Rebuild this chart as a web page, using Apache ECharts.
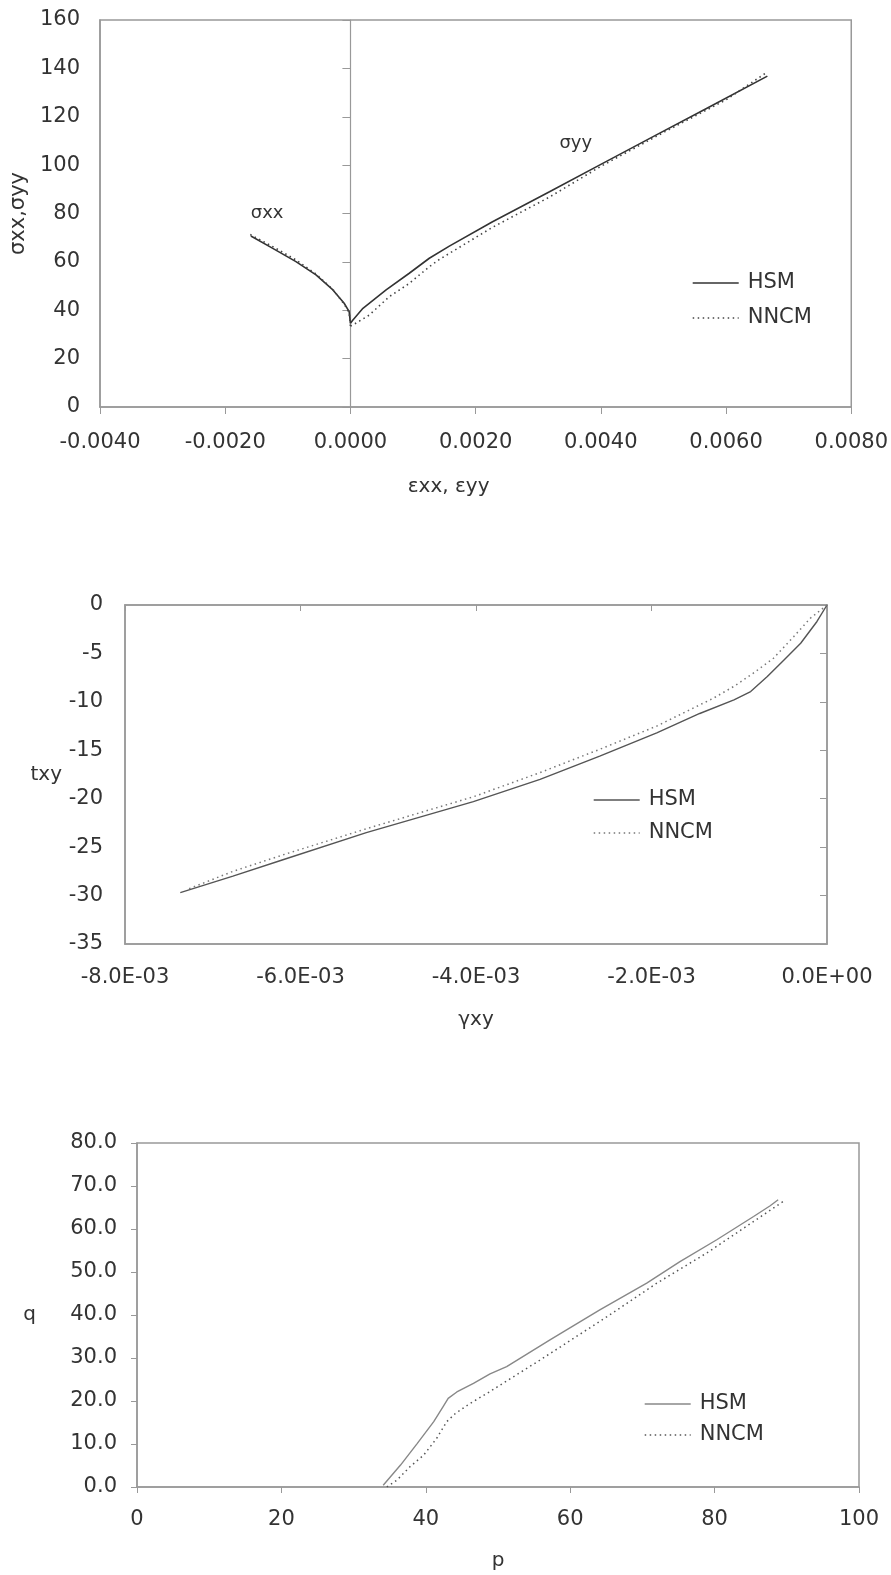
<!DOCTYPE html>
<html>
<head>
<meta charset="utf-8">
<script src="https://cdn.jsdelivr.net/npm/echarts@6/dist/echarts.min.js"></script>
<style>
  html, body { margin: 0; padding: 0; background: #fff; }
  #chart-container { width: 891px; height: 1575px; }
</style>
</head>
<body>
<div id="chart-container"></div>
<script>
// chart 1: sigma vs strain (xx branch goes left, yy branch goes right)
const hsmExx = [0, -0.00002, -0.0001, -0.00028, -0.00055, -0.00087, -0.00124, -0.00159];
const hsmSxx = [34.6, 39.4, 42.9, 48.4, 54.6, 60.1, 65.6, 70.7];
const nncmExx = [0, -0.00002, -0.0001, -0.00028, -0.00055, -0.00087, -0.00124, -0.0016];
const nncmSxx = [33.5, 39.0, 42.5, 48.6, 55.0, 60.8, 66.3, 71.3];
const hsmEyy = [0, 0.00004, 0.0002, 0.00057, 0.00094, 0.00126, 0.00158, 0.00227, 0.00318, 0.0040, 0.00488, 0.00568, 0.00666];
const hsmSyy = [34.6, 36.0, 40.8, 48.4, 55.3, 61.5, 66.5, 76.6, 89.0, 100.3, 112.4, 123.3, 136.8];
const nncmEyy = [0, 0.00004, 0.0003, 0.00062, 0.00094, 0.00126, 0.00142, 0.00227, 0.00318, 0.0040, 0.0050, 0.0060, 0.00662];
const nncmSyy = [33.5, 33.9, 38.0, 45.6, 51.1, 58.0, 61.0, 74.3, 86.8, 99.5, 113.5, 127.0, 137.8];

// chart 2: shear stress vs shear strain
const hsmGxy = [0, -0.000114, -0.0003, -0.00049, -0.00068, -0.00087, -0.00106, -0.00145, -0.00194, -0.00259, -0.00327, -0.00403, -0.00525, -0.0062, -0.00677, -0.00737];
const hsmTxy = [0, -1.7, -3.95, -5.67, -7.39, -8.94, -9.8, -11.2, -13.2, -15.6, -18.0, -20.3, -23.5, -26.3, -28.0, -29.7];
const nncmGxy = [0, -0.00019, -0.00038, -0.00061, -0.00084, -0.00106, -0.00129, -0.00194, -0.00259, -0.00327, -0.00403, -0.00525, -0.0062, -0.00677, -0.0073];
const nncmTxy = [0, -1.37, -3.27, -5.5, -7.04, -8.4, -9.6, -12.5, -14.9, -17.3, -19.8, -23.1, -25.8, -27.5, -29.4];

// chart 3: q vs p
const hsmP = [34.1, 36.5, 38.8, 41.1, 42.4, 43.1, 44.3, 46.6, 48.9, 51.2, 57.2, 64.1, 70.6, 75.2, 80.3, 85.4, 87.7, 88.8];
const hsmQ = [0.4, 5.1, 10.1, 15.2, 18.7, 20.6, 22.1, 24.1, 26.3, 28.0, 34.2, 41.2, 47.4, 52.4, 57.5, 62.9, 65.4, 66.8];
const nncmP = [34.6, 36.0, 37.8, 39.7, 41.5, 42.9, 44.1, 46.1, 48.5, 55.8, 65.1, 72.0, 78.9, 85.8, 89.5];
const nncmQ = [0, 1.6, 4.7, 7.4, 11.3, 15.2, 17.1, 19.4, 21.8, 29.5, 39.6, 47.4, 54.4, 62.2, 66.4];

const legendNames = ['HSM', 'NNCM'];

function zip(xs, ys) { return xs.map((x, i) => [x, ys[i]]); }

function sci(v) {
  if (v === 0) return '0.0E+00';
  const e = Math.floor(Math.log10(Math.abs(v)) + 1e-9);
  const m = v / Math.pow(10, e);
  return m.toFixed(1) + 'E' + (e < 0 ? '-' : '+') + String(Math.abs(e)).padStart(2, '0');
}

const FONT = 'DejaVu Sans';
const TXT = '#333';
const AXC = '#999';
const DOTS = [1.5, 3.5];
const lbl = (margin, fmt) => ({ show: true, fontSize: 21, color: TXT, fontFamily: FONT, margin: margin, formatter: fmt });
const nameStyle = { fontSize: 20, color: TXT, fontFamily: FONT };
const axLine = { show: true, onZero: false, lineStyle: { color: AXC, width: 1.5 } };
const noSplit = { show: false };

function legendFor(left, top, gap, hsmColor, nncmColor) {
  return {
    left: left, top: top, orient: 'vertical', padding: 0,
    itemWidth: 46, itemHeight: 14, itemGap: gap,
    textStyle: { fontSize: 21, color: TXT, fontFamily: FONT, lineHeight: 22, padding: [0, 0, 0, 4] },
    data: [
      { name: legendNames[0], itemStyle: { opacity: 0 }, lineStyle: { color: hsmColor, width: 1.4, type: 'solid' } },
      { name: legendNames[1], itemStyle: { opacity: 0 }, lineStyle: { color: nncmColor, width: 1.4, type: DOTS } }
    ]
  };
}

function line(name, data, xi, yi, color, dotted, width) {
  return {
    name: name, type: 'line', xAxisIndex: xi, yAxisIndex: yi,
    data: data, symbol: 'none', showSymbol: false, silent: true,
    itemStyle: { color: color },
    lineStyle: { color: color, width: width, type: dotted ? DOTS : 'solid' }
  };
}

function note(text, coord) {
  return {
    symbol: 'circle', symbolSize: 0, silent: true,
    label: { show: true, position: 'inside', formatter: text, color: TXT, fontSize: 18, fontFamily: FONT },
    data: [{ coord: coord }]
  };
}

const chartDom = document.getElementById('chart-container');
const myChart = echarts.init(chartDom, null, { renderer: 'canvas' });

const s1 = line('HSM', zip(hsmExx, hsmSxx), 0, 0, '#333', false, 1.6);
s1.markPoint = note('σxx', [-0.00133, 80]);
const s2 = line('HSM', zip(hsmEyy, hsmSyy), 0, 0, '#333', false, 1.6);
s2.markPoint = note('σyy', [0.0036, 109]);

const option = {
  animation: false,
  backgroundColor: '#fff',
  grid: [
    { left: 100, top: 20, right: 39, height: 387, show: true, borderColor: AXC, borderWidth: 1.5, backgroundColor: 'transparent' },
    { left: 125, top: 605, right: 64, height: 339, show: true, borderColor: AXC, borderWidth: 1.5, backgroundColor: 'transparent' },
    { left: 137, top: 1143, right: 32, height: 344, show: true, borderColor: AXC, borderWidth: 1.5, backgroundColor: 'transparent' }
  ],
  legend: [
    legendFor(692, 272, 13, '#333', '#444'),
    legendFor(593, 789, 11, '#555', '#777'),
    legendFor(644, 1393, 9, '#888', '#555')
  ],
  xAxis: [
    { gridIndex: 0, type: 'value', min: -0.004, max: 0.008, interval: 0.002,
      axisLine: axLine, axisTick: { show: true, length: 7, lineStyle: { color: AXC } },
      axisLabel: lbl(25, v => v.toFixed(4)), splitLine: noSplit,
      name: 'εxx, εyy', nameLocation: 'middle', nameGap: 70,
      nameTextStyle: Object.assign({ padding: [0, 54, 0, 0] }, nameStyle) },
    { gridIndex: 1, type: 'value', min: -0.008, max: 0, interval: 0.002,
      axisLine: axLine, axisTick: { show: false },
      axisLabel: lbl(23, sci), splitLine: noSplit,
      name: 'γxy', nameLocation: 'middle', nameGap: 66, nameTextStyle: nameStyle },
    { gridIndex: 1, type: 'value', min: -0.008, max: 0, interval: 0.002, position: 'top',
      axisLine: axLine, axisTick: { show: true, inside: true, length: 6, lineStyle: { color: AXC } },
      axisLabel: { show: false }, splitLine: noSplit },
    { gridIndex: 2, type: 'value', min: 0, max: 100, interval: 20,
      axisLine: axLine, axisTick: { show: true, length: 6, lineStyle: { color: AXC } },
      axisLabel: lbl(22, v => String(v)), splitLine: noSplit,
      name: 'p', nameLocation: 'middle', nameGap: 64, nameTextStyle: nameStyle }
  ],
  yAxis: [
    { gridIndex: 0, type: 'value', min: 0, max: 160, interval: 20, position: 'left',
      axisLine: axLine, axisTick: { show: false },
      axisLabel: lbl(20, v => String(v)), splitLine: noSplit,
      name: 'σxx,σyy', nameLocation: 'middle', nameRotate: 90, nameGap: 68,
      nameTextStyle: Object.assign({}, nameStyle, { fontSize: 21 }) },
    { gridIndex: 0, type: 'value', min: 0, max: 160, interval: 20, position: 'left',
      axisLine: { show: true, onZero: true, lineStyle: { color: AXC, width: 1.2 } },
      axisTick: { show: true, length: 8, lineStyle: { color: AXC } },
      axisLabel: { show: false }, splitLine: noSplit },
    { gridIndex: 1, type: 'value', min: -35, max: 0, interval: 5, position: 'left',
      axisLine: axLine, axisTick: { show: false },
      axisLabel: lbl(22, v => String(v)), splitLine: noSplit,
      name: 'txy', nameLocation: 'middle', nameRotate: 0, nameGap: 63, nameTextStyle: nameStyle },
    { gridIndex: 1, type: 'value', min: -35, max: 0, interval: 5, position: 'right',
      axisLine: axLine, axisTick: { show: true, inside: true, length: 7, lineStyle: { color: AXC } },
      axisLabel: { show: false }, splitLine: noSplit },
    { gridIndex: 2, type: 'value', min: 0, max: 80, interval: 10, position: 'left',
      axisLine: axLine, axisTick: { show: true, length: 6, lineStyle: { color: AXC } },
      axisLabel: lbl(20, v => v.toFixed(1)), splitLine: noSplit,
      name: 'q', nameLocation: 'middle', nameRotate: 0, nameGap: 101, nameTextStyle: nameStyle }
  ],
  series: [
    s1,
    s2,
    line('NNCM', zip(nncmExx, nncmSxx), 0, 0, '#444', true, 1.6),
    line('NNCM', zip(nncmEyy, nncmSyy), 0, 0, '#444', true, 1.6),
    line('HSM', zip(hsmGxy, hsmTxy), 1, 2, '#555', false, 1.4),
    line('NNCM', zip(nncmGxy, nncmTxy), 1, 2, '#777', true, 1.5),
    line('HSM', zip(hsmP, hsmQ), 3, 4, '#888', false, 1.4),
    line('NNCM', zip(nncmP, nncmQ), 3, 4, '#555', true, 1.5)
  ]
};

myChart.setOption(option);
</script>
</body>
</html>
